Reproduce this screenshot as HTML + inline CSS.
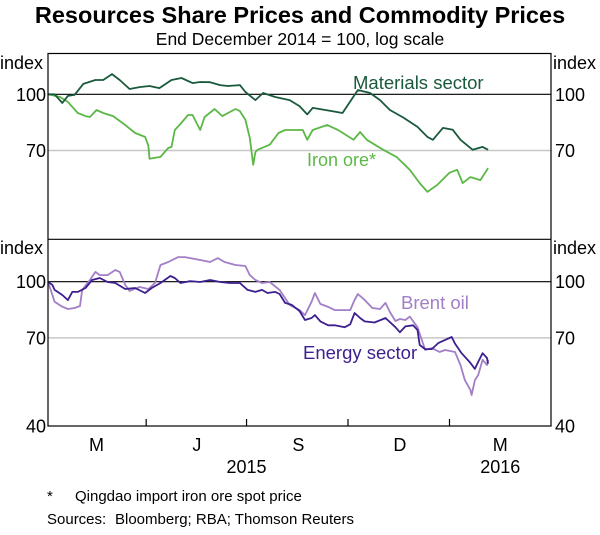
<!DOCTYPE html>
<html><head><meta charset="utf-8"><style>
body{margin:0;background:#fff;}
svg text{font-family:"Liberation Sans",Arial,sans-serif;fill:#000;}
</style></head><body>
<svg id="chart" width="600" height="530" viewBox="0 0 600 530" xmlns="http://www.w3.org/2000/svg">
<text x="300" y="23" text-anchor="middle" font-size="23.5" font-weight="bold">Resources Share Prices and Commodity Prices</text>
<text x="300" y="45" text-anchor="middle" font-size="17.5">End December 2014 = 100, log scale</text>
<g id="grid"></g>
<g id="series"></g>
<g id="axes"></g>
<text x="307" y="166" font-size="18" style="fill:#5cb846">Iron ore*</text>
<text x="353" y="89" font-size="18.5" style="fill:#1a5a3c">Materials sector</text>
<text x="401" y="309" font-size="18.5" style="fill:#a27fc6">Brent oil</text>
<text x="303" y="359" font-size="18.5" style="fill:#3d1f8f">Energy sector</text>
<text x="47" y="501" font-size="15">*</text>
<text x="75" y="501" font-size="15">Qingdao import iron ore spot price</text>
<text x="47" y="524" font-size="15">Sources:</text>
<text x="115" y="524" font-size="15">Bloomberg; RBA; Thomson Reuters</text>
</svg>
<script>
const materialsDays=[0,6,13,18,24,32,43,50,58,65,74,83,92,101,112,121,131,138,147,156,163,174,179,188,195,206,219,228,235,240,256,267,281,292,301,310,322,335,344,349,358,367,374,385,394,399];
const materialsVals=[100,100,94.6,99,99.6,106.8,109.5,109.5,113.7,109.5,103.4,104.7,105.4,104,109.5,110.9,107.4,108.1,108,106,105.4,106,101.5,96.4,100.8,98.3,96.4,92.8,88,91.7,90,88.8,102.8,100.8,96.4,90.5,86.3,81.3,76.3,74.9,80.8,79.8,74.9,70.3,71.6,70.3];
const ironDays=[0,11,18,27,34,38,44,50,59,70,79,88,91,92,102,109,112,115,120,127,131,138,142,151,158,170,174,179,183,186,188,190,201,209,215,231,235,240,253,263,277,283,289,304,316,328,337,344,353,364,371,376,383,392,399];
const ironVals=[100,98.3,95.2,88.8,87.1,86.6,90.5,88.8,87.1,82.3,78.2,76.3,72.1,66.4,67.2,71.1,71.6,79.7,82.8,87.7,87.7,79.7,86.6,91.1,87.1,91.1,89.9,85,75.8,63.9,69.3,70.3,72.6,78.2,79.7,79.7,74.9,79.7,82.3,79.7,74.9,78.7,74.9,70.3,67.2,61.9,56.9,53.8,56.3,60.8,61.9,56.9,59.1,58,62.6];
const energyDays=[0,4,6,13,18,22,27,34,40,47,54,61,70,79,88,94,102,111,115,120,129,138,147,156,165,174,181,188,194,199,206,210,215,221,228,233,239,242,247,254,260,269,274,278,283,287,296,306,315,319,324,331,335,337,342,348,354,360,366,369,375,383,387,390,394,398,399];
const energyVals=[100,97.9,94.9,91.9,89,93.7,93.7,96.1,101.1,102.4,99.8,99.2,95.5,96.1,93.1,96.1,99.2,103.7,102.4,99.2,100.4,99.8,101.1,99.8,99.2,99.2,94.9,93.7,94.9,93.1,93.7,92.5,87.4,86.3,83,78.4,79.4,80.9,77.7,75.8,75.8,74.9,76.3,82,79.4,77.7,77.2,79.4,74.9,72.5,75.3,75.8,73.6,66.9,65.2,65.2,67.8,69.1,70.4,67.5,63.5,59.7,57.5,60.1,63.5,61.6,59.4];
const brentDays=[0,4,6,13,18,24,29,31,38,43,47,54,61,65,70,74,83,91,97,102,109,118,124,129,138,147,154,160,170,179,183,188,194,201,210,219,228,233,239,242,247,254,260,269,274,278,281,287,294,301,306,310,315,319,324,328,335,342,348,355,360,369,374,378,383,384,387,390,394,398,399];
const brentVals=[100,91.9,88.1,85.3,84.1,84.6,85.7,94.9,101.1,106.4,104.3,104.3,107.7,106.4,97.9,94.3,96.7,95.5,99.2,111.2,113.3,116.9,116.9,116.2,114.8,113.3,116.2,113.3,111.2,110.5,104.3,101.1,99.2,99.8,94.9,86.3,83.5,80.9,88.1,93.1,86.8,85.2,83.5,83.5,83.5,89.1,92.5,89.1,84.6,84.1,87.4,82.5,77.9,78.9,78.4,80.1,74.9,64.8,65.6,64,64.8,64,58.9,53.5,50.3,48.7,53.5,55.3,60.9,58.9,60.9];
const yTicks=[100,70];
const yTicksBottom=[100,70,40];
const monthLabels=["M","J","S","D","M"];
const monthLabelDays=[44,135,227,319,410];
const yearLabels=["2015","2016"];

const NS="http://www.w3.org/2000/svg";
const L=48,R=551,T1=53.5,MID=239.3,B=426;
const xDay=d=>L+d*1.103;
const K=157.5;
const yTop=v=>94.3-K*Math.log(v/100);
const yBot=v=>281.7-K*Math.log(v/100);
function mk(tag,attrs,parent){const e=document.createElementNS(NS,tag);for(const k in attrs)e.setAttribute(k,attrs[k]);document.getElementById(parent).appendChild(e);return e;}

yTicks.forEach(v=>{
  const g=mk('line',{x1:L,x2:R,y1:yTop(v),y2:yTop(v),stroke:v===100?'#000':'#c8c8c8','stroke-width':v===100?1.2:1.5},'grid');
  
  
  const g2=mk('line',{x1:L,x2:R,y1:yBot(v),y2:yBot(v),stroke:v===100?'#000':'#c8c8c8','stroke-width':v===100?1.2:1.5},'grid');
  
  
});
function series(days,vals,yf,color,name){
  const d=days.map((dd,i)=>(i?'L':'M')+xDay(dd).toFixed(1)+','+yf(vals[i]).toFixed(1)).join('');
  const p=mk('path',{d:d,fill:'none',stroke:color,'stroke-width':1.8,'stroke-linejoin':'round'},'series');
  
  
}
series(ironDays,ironVals,yTop,'#5cb846','iron-ore-line');
series(materialsDays,materialsVals,yTop,'#1a5a3c','materials-sector-line');
series(brentDays,brentVals,yBot,'#a27fc6','brent-oil-line');
series(energyDays,energyVals,yBot,'#3d1f8f','energy-sector-line');

const f1=mk('rect',{x:L,y:T1,width:R-L,height:B-T1,fill:'none',stroke:'#000','stroke-width':1.2},'axes');


const dv=mk('line',{x1:L,x2:R,y1:MID,y2:MID,stroke:'#000','stroke-width':1.2},'axes');


[89,180,272,364].forEach(d=>{
  const t=mk('line',{x1:xDay(d),x2:xDay(d),y1:B,y2:B-7,stroke:'#000','stroke-width':1.2},'axes');
  
  
});
function txt(x,y,s,anchor,size,name){
  const t=mk('text',{x:x,y:y,'text-anchor':anchor,'font-size':size},'axes');
  t.textContent=s;
  
  
}
txt(0,69,'index','start',18,'top-left-y-title');
txt(553,69,'index','start',18,'top-right-y-title');
txt(0,254,'index','start',18,'bottom-left-y-title');
txt(553,254,'index','start',18,'bottom-right-y-title');
yTicks.forEach(v=>{
  txt(46,yTop(v)+6.5,String(v),'end',18,'top-left-y-tick');
  txt(555,yTop(v)+6.5,String(v),'start',18,'top-right-y-tick');
});
yTicksBottom.forEach(v=>{
  txt(46,yBot(v)+6.5,String(v),'end',18,'bottom-left-y-tick');
  txt(555,yBot(v)+6.5,String(v),'start',18,'bottom-right-y-tick');
});
monthLabels.forEach((m,i)=>txt(xDay(monthLabelDays[i]),451,m,'middle',18,'x-month-label'));
txt(xDay(180),473,yearLabels[0],'middle',18,'x-year-label');
txt(xDay(410),473,yearLabels[1],'middle',18,'x-year-label');
</script>
</body></html>
